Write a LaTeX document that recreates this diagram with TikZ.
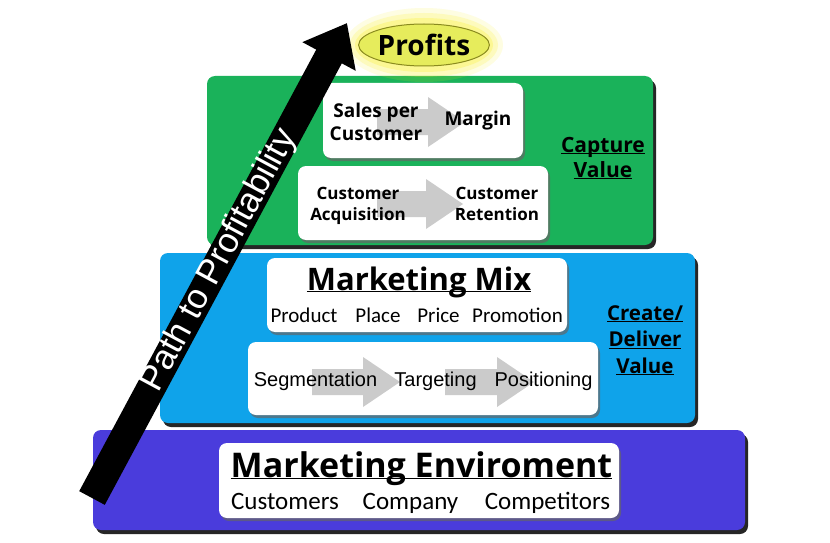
\documentclass[tikz,border=0pt]{standalone}
\usepackage{fontspec}
\setmainfont{Open Sans}
\newfontfamily\calfont{Carlito}
\newfontfamily\arifont{Liberation Sans}
\usetikzlibrary{shadows,arrows.meta,shapes.geometric,calc}
\definecolor{EnvIndigo}{HTML}{4A3CDC}
\definecolor{MixAzure}{HTML}{0FA3EA}
\definecolor{CapJade}{HTML}{1AB25A}
\definecolor{ProfLemon}{HTML}{E6EC5C}
\definecolor{ProfRim}{HTML}{8A8A1E}
\definecolor{FlowGrey}{HTML}{CBCBCB}
\tikzset{
    layer/.style = {rounded corners=8pt,
        drop shadow={shadow xshift=3pt,shadow yshift=-4pt,fill=black,opacity=.85}},
    card/.style = {fill=white, rounded corners=8pt,
        drop shadow={shadow xshift=2pt,shadow yshift=-3pt,fill=black!60,opacity=.7}},
    bold/.style 2 args = {font=\bfseries\fontsize{#1}{#2}\selectfont,
        align=center, anchor=base, inner sep=0pt},
    plain/.style 2 args = {font=#1\fontsize{#2}{#2}\selectfont,
        anchor=base, inner sep=0pt},
    profit/.style = {draw=ProfRim, fill=ProfLemon, line width=1pt, ellipse,
        minimum width=126pt, minimum height=42pt, inner sep=0pt,
        font=\bfseries\fontsize{28}{28}\selectfont},
    pathline/.style = {draw=black, line width=29pt,
        -{Triangle[length=38pt,width=58pt]}},
    pathtext/.style = {sloped, text=white, inner sep=0pt,
        font=\arifont\fontsize{35}{35}\selectfont}
}
\newcommand{\ul}[1]{\underline{\smash{#1}}}
\newcommand{\flowarrow}[3]{%
    \fill[FlowGrey] (#1,#3-13) -- (#2-37,#3-13) -- (#2-37,#3-25) -- (#2,#3)
        -- (#2-37,#3+25) -- (#2-37,#3+13) -- (#1,#3+13) -- cycle;}

\begin{document}
\begin{tikzpicture}[x=1pt,y=-1pt]
    \useasboundingbox[fill=white] (0,0) rectangle (830,543);
    % pyramid layers
    \fill[layer, fill=EnvIndigo] (93,430) rectangle (745,530);
    \fill[layer, fill=MixAzure] (160,253) rectangle (695,423);
    \fill[layer, fill=CapJade] (207,76) rectangle (653,245);
    % white cards
    \fill[card] (323,83) rectangle (523,158);
    \fill[card] (298,166) rectangle (548,240);
    \fill[card] (267,258) rectangle (567,332);
    \fill[card] (248,342) rectangle (598,415);
    \fill[card] (219,443) rectangle (619,518);
    % grey flow arrows
    \flowarrow{377}{465}{122}
    \flowarrow{377}{463}{204}
    \flowarrow{312}{400}{382}
    \flowarrow{445}{534}{382}
    % capture value (base = last line)
    \node[bold={19}{23}] (sales) at (376,140) {Sales per\\Customer};
    \node[bold={19}{23}] (margin) at (478,125) {Margin};
    \node[bold={17}{21}] (acq) at (358,220) {Customer\\Acquisition};
    \node[bold={17}{21}] (ret) at (497,220) {Customer\\Retention};
    \node[bold={21}{25}] (capture) at (603,177) {\ul{Capture}\\\ul{Value}};
    % create / deliver value
    \node[bold={31}{31}] (mix) at (419,290) {\ul{Marketing Mix}};
    \foreach \x/\t in {304/Product, 378/Place, 438.5/Price, 517.5/Promotion}
        \node[plain={\calfont}{21}] (mix-\t) at (\x,322) {\t};
    \foreach \x/\t in {315.5/Segmentation, 435.5/Targeting, 543.5/Positioning}
        \node[plain={\arifont}{20}] (stp-\t) at (\x,386) {\t};
    \node[bold={20.5}{26.5}] (deliver) at (645,373) {\ul{Create/}\\\ul{Deliver}\\\ul{Value}};
    % environment
    \node[bold={34}{34}] (env) at (421.5,477) {\ul{Marketing Enviroment}};
    \foreach \x/\t in {285/Customers, 410.5/Company, 547.5/Competitors}
        \node[plain={\calfont}{25}] (env-\t) at (\x,509) {\t};
    % profits with glow
    \foreach \r/\o in {16/.12, 11/.18, 6/.25}
        \fill[yellow!80!ProfLemon, opacity=\o] (424,45) ellipse [x radius=63+\r, y radius=21+\r];
    \node[profit] (profits) at (424,45) {Profits};
    % path to profitability
    \coordinate (tail) at (92,498);
    \coordinate (tip) at (347,23);
    \draw[pathline] (tail) -- node[pathtext] (path) {Path to Profitability} (tip);
\end{tikzpicture}
\end{document}
